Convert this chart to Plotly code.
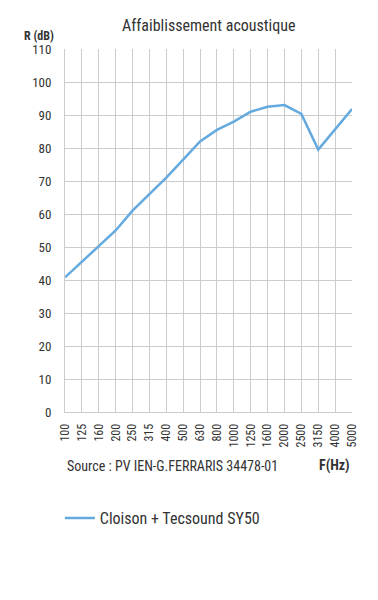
import plotly.graph_objects as go

freqs = ["100", "125", "160", "200", "250", "315", "400", "500", "630", "800",
         "1000", "1250", "1600", "2000", "2500", "3150", "4000", "5000"]
r_db = [40.8, 45.5, 50.5, 55.0, 61.0, 66.0, 71.0, 76.5, 82.0, 85.5,
        88.0, 91.0, 92.5, 93.0, 90.3, 79.5, 85.7, 91.8]
series_name = "Cloison + Tecsound SY50"
y_ticks = list(range(0, 111, 10))

FONT = "Liberation Sans Narrow, Roboto Condensed, Roboto, sans-serif"
TXT = "#333333"

fig = go.Figure()
fig.add_trace(go.Scatter(
    x=freqs, y=r_db, mode="lines", name=series_name,
    line=dict(color="#64aadf", width=2.5),
))

fig.update_layout(
    width=370, height=592,
    margin=dict(l=57, r=26, t=41, b=188),
    paper_bgcolor="white", plot_bgcolor="white",
    font=dict(family=FONT, color=TXT, size=12),
    showlegend=True,
    legend=dict(orientation="h", x=-0.018, xanchor="left", y=-0.292, yanchor="middle",
                font=dict(size=16, color=TXT, family=FONT), bgcolor="rgba(0,0,0,0)"),
    xaxis=dict(type="category", range=[0, 17], showgrid=True, gridcolor="#cccccc",
               gridwidth=1, tickangle=-90, tickfont=dict(size=12, color=TXT),
               showline=True, linecolor="#cccccc", ticks="", zeroline=False,
               ticklabelstandoff=6),
    yaxis=dict(range=[0, 110], tickvals=y_ticks, showgrid=True, gridcolor="#cccccc",
               gridwidth=1, tickfont=dict(size=13, color=TXT), showline=True,
               linecolor="#cccccc", ticks="", zeroline=False, ticklabelstandoff=10),
    annotations=[
        dict(text="Affaiblissement acoustique", x=0.5, y=(412 - 26) / 363, yanchor="middle",
             xref="paper", yref="paper", showarrow=False, font=dict(size=16, color=TXT)),
        dict(text="<b>R (dB)</b>", x=-0.03, xanchor="right", y=1.035, yanchor="middle",
             xref="paper", yref="paper", showarrow=False, font=dict(size=12, color=TXT)),
        dict(text="Source : PV IEN-G.FERRARIS 34478-01", x=0.0, xanchor="left",
             y=-0.148, yanchor="middle", xref="paper", yref="paper", showarrow=False,
             font=dict(size=14, color=TXT)),
        dict(text="<b>F(Hz)</b>", x=1.0, xanchor="right", y=-0.148, yanchor="middle",
             xref="paper", yref="paper", showarrow=False, font=dict(size=14, color=TXT)),
    ],
)

fig.write_html("out.html")
